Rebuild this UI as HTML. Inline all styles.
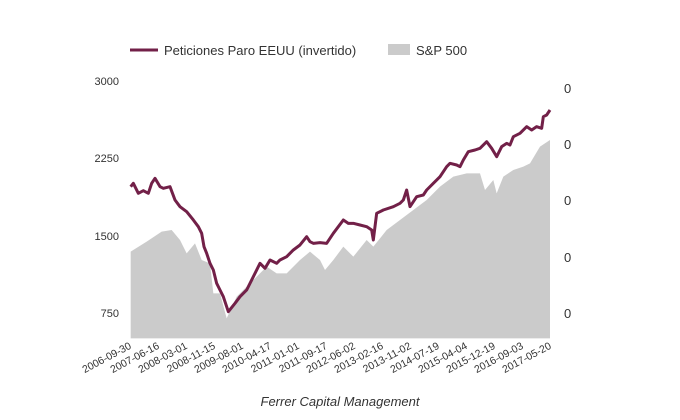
<!DOCTYPE html>
<html><head><meta charset="utf-8"><style>body{margin:0;background:#fff}svg{display:block;font-family:"Liberation Sans",sans-serif}</style></head><body>
<svg width="680" height="420" viewBox="0 0 680 420">
<line x1="130" y1="50" x2="158" y2="50" stroke="#722048" stroke-width="3"/>
<text x="164" y="55" font-size="13" fill="#333">Peticiones Paro EEUU (invertido)</text>
<rect x="388" y="44" width="22" height="11" fill="#cbcbcb"/>
<text x="416" y="55" font-size="13" fill="#333">S&amp;P 500</text>
<g transform="translate(80,60) scale(0.33333)">
<polygon fill="#cbcbcb" points="152,835 152,575 200,545 245,515 275,510 300,540 320,580 345,550 365,600 390,610 400,700 420,700 440,775 470,710 520,660 560,620 590,640 620,640 660,600 690,575 720,600 735,630 760,600 790,560 820,590 860,540 880,560 920,510 960,480 1000,450 1040,420 1080,380 1120,350 1160,340 1200,340 1215,390 1240,360 1250,400 1270,350 1300,330 1330,320 1350,310 1380,260 1410,240 1410,835"/>
<polyline fill="none" stroke="#722048" stroke-width="9" stroke-linejoin="round" points="152,380 160,370 175,400 190,392 205,400 215,370 225,355 240,380 250,385 270,380 285,420 300,440 320,455 340,480 355,500 365,520 372,560 380,580 390,610 400,630 410,670 420,690 430,710 445,755 465,730 480,710 500,690 520,650 540,610 555,625 570,600 590,610 600,600 620,590 640,570 660,555 680,530 690,545 700,550 720,548 740,550 760,520 790,480 805,490 820,490 840,495 860,500 875,510 880,540 890,460 910,450 940,440 960,430 970,420 980,390 990,440 1010,410 1030,405 1040,390 1060,370 1080,350 1100,320 1110,310 1130,315 1140,320 1150,300 1165,275 1185,270 1200,265 1220,245 1235,265 1250,290 1265,260 1280,250 1290,255 1300,230 1320,220 1340,200 1355,210 1370,200 1385,205 1390,170 1400,165 1410,150"/>
</g>
<g font-size="11" fill="#333" text-anchor="end">
<text x="119" y="85">3000</text><text x="119" y="162">2250</text><text x="119" y="240">1500</text><text x="119" y="317">750</text>
</g>
<g font-size="13" fill="#333">
<text x="564" y="93">0</text><text x="564" y="149">0</text><text x="564" y="205">0</text><text x="564" y="262">0</text><text x="564" y="318">0</text>
</g>
<g font-size="10.5" fill="#333" text-anchor="end">
<text transform="translate(132,348) rotate(-28)">2006-09-30</text>
<text transform="translate(160,348) rotate(-28)">2007-06-16</text>
<text transform="translate(188,348) rotate(-28)">2008-03-01</text>
<text transform="translate(216,348) rotate(-28)">2008-11-15</text>
<text transform="translate(244,348) rotate(-28)">2009-08-01</text>
<text transform="translate(272,348) rotate(-28)">2010-04-17</text>
<text transform="translate(300,348) rotate(-28)">2011-01-01</text>
<text transform="translate(328,348) rotate(-28)">2011-09-17</text>
<text transform="translate(356,348) rotate(-28)">2012-06-02</text>
<text transform="translate(384,348) rotate(-28)">2013-02-16</text>
<text transform="translate(412,348) rotate(-28)">2013-11-02</text>
<text transform="translate(440,348) rotate(-28)">2014-07-19</text>
<text transform="translate(468,348) rotate(-28)">2015-04-04</text>
<text transform="translate(496,348) rotate(-28)">2015-12-19</text>
<text transform="translate(524,348) rotate(-28)">2016-09-03</text>
<text transform="translate(552,348) rotate(-28)">2017-05-20</text>
</g>
<text x="340" y="406" font-size="13" font-style="italic" fill="#333" text-anchor="middle">Ferrer Capital Management</text>
</svg>
</body></html>
